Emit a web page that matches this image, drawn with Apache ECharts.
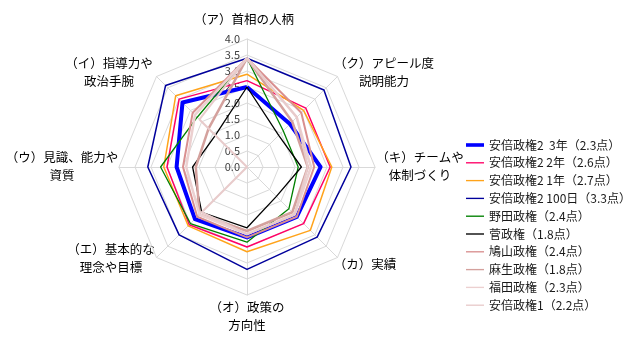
<!DOCTYPE html>
<html>
<head>
<meta charset="utf-8">
<script src="https://cdn.jsdelivr.net/npm/echarts@6/dist/echarts.min.js"></script>
<style>
  html, body { margin: 0; padding: 0; background: #ffffff; }
  #chart { width: 638px; height: 350px; }
</style>
</head>
<body>
<div id="chart"></div>
<script>
// Survey items, counter-clockwise from the top
const itemNames = [
  '（ア）首相の人柄',
  '（イ）指導力や\n政治手腕',
  '（ウ）見識、能力や\n資質',
  '（エ）基本的な\n理念や目標',
  '（オ）政策の\n方向性',
  '（カ）実績',
  '（キ）チームや\n体制づくり',
  '（ク）アピール度\n説明能力'
];

// Score scale
const scoreMin = 0;
const scoreMax = 4;
const scoreStep = 0.5;

// Cabinet names as listed in the legend
const cabinetNames = [
  '安倍政権2  3年（2.3点）',
  '安倍政権2 2年（2.6点）',
  '安倍政権2 1年（2.7点）',
  '安倍政権2 100日（3.3点）',
  '野田政権（2.4点）',
  '菅政権（1.8点）',
  '鳩山政権（2.4点）',
  '麻生政権（1.8点）',
  '福田政権（2.3点）',
  '安倍政権1（2.2点）'
];

// Scores per item, same order as itemNames
const abe2Year3   = [2.5, 2.85, 2.2, 2.3, 2.2, 2.2, 2.3, 1.9];
const abe2Year2   = [2.7, 3.0, 2.5, 2.55, 2.5, 2.5, 2.6, 2.6];
const abe2Year1   = [2.9, 3.15, 2.6, 2.6, 2.65, 2.8, 2.65, 2.5];
const abe2Day100  = [3.4, 3.6, 3.1, 3.0, 3.2, 3.1, 3.25, 3.4];
const nodaScores  = [3.4, 2.2, 2.7, 2.5, 2.35, 1.85, 1.6, 1.6];
const kanScores   = [2.5, 1.4, 1.7, 2.0, 1.9, 1.3, 1.7, 1.4];
const hatoyamaScores = [3.4, 2.4, 2.0, 2.2, 2.2, 2.2, 2.1, 2.4];
const asoScores   = [3.4, 1.7, 1.6, 2.1, 2.0, 2.0, 1.9, 2.0];
const fukudaScores = [3.4, 2.3, 1.9, 2.1, 2.1, 2.1, 2.0, 2.2];
const abe1Scores  = [3.4, 2.1, 0, 2.0, 2.1, 2.1, 1.9, 2.2];

const allScores = [abe2Year3, abe2Year2, abe2Year1, abe2Day100, nodaScores,
  kanScores, hatoyamaScores, asoScores, fukudaScores, abe1Scores];

// Styling
const lineColors = ['#0000ff', '#ff0066', '#ffa31a', '#00009c', '#008000',
  '#000000', '#d98f8f', '#d4a19d', '#ecd0d0', '#e8cbcb'];
const lineWidths = [4, 1.5, 1.5, 1.5, 1.3, 1.3, 2, 2.5, 2.5, 2];

const FONT = '"Noto Sans CJK JP", "Noto Sans", sans-serif';
const CX = 247, CY = 167, R = 128;

// Label anchors for the item names (block centres)
const nameAnchors = [
  [244, 19], [109, 72], [62, 166], [111, 258],
  [247, 316], [365, 264], [420, 166], [384, 72]
];

const thinIcon = 'path://M0,0M0,1.25h20v1.5h-20zM20,4';
const thickIcon = 'path://M0,0h20v4h-20z';

const chart = echarts.init(document.getElementById('chart'), null, { renderer: 'canvas' });

const indicators = itemNames.map(function (n, i) {
  const ind = { name: n, min: scoreMin, max: scoreMax };
  if (i === 0) {
    ind.axisLabel = {
      show: true,
      fontSize: 11,
      fontFamily: FONT,
      color: '#404040',
      margin: 7,
      showMinLabel: true,
      showMaxLabel: true,
      formatter: function (v) { return Number(v).toFixed(1); }
    };
  }
  return ind;
});

const option = {
  backgroundColor: '#ffffff',
  animation: false,
  textStyle: { fontFamily: FONT },
  radar: {
    center: [CX, CY],
    radius: R,
    startAngle: 90,
    shape: 'polygon',
    splitNumber: (scoreMax - scoreMin) / scoreStep,
    indicator: indicators,
    axisName: { show: false },
    axisLine: { lineStyle: { color: '#d9d9d9', width: 1 } },
    splitLine: { lineStyle: { color: '#d9d9d9', width: 1 } },
    splitArea: { show: false },
    axisTick: { show: false },
    axisLabel: { show: false }
  },
  legend: {
    orient: 'vertical',
    left: 466,
    top: 138,
    padding: 0,
    itemWidth: 18,
    itemHeight: 4,
    itemGap: 3.8,
    textStyle: { fontSize: 12, lineHeight: 14, color: '#1a1a1a', fontFamily: FONT },
    data: cabinetNames.map(function (n, i) {
      return {
        name: n,
        icon: i === 0 ? thickIcon : thinIcon,
        itemStyle: { color: lineColors[i], borderWidth: 0 }
      };
    })
  },
  graphic: itemNames.map(function (n, i) {
    return {
      type: 'text',
      x: nameAnchors[i][0],
      y: nameAnchors[i][1],
      silent: true,
      style: {
        text: n,
        font: '12.5px ' + FONT,
        fill: '#000000',
        align: 'center',
        verticalAlign: 'middle',
        textAlign: 'center',
        textVerticalAlign: 'middle',
        lineHeight: 18
      }
    };
  }),
  series: cabinetNames.map(function (n, i) {
    return {
      type: 'radar',
      name: n,
      symbol: 'none',
      z: 2,
      lineStyle: { color: lineColors[i], width: lineWidths[i] },
      itemStyle: { color: lineColors[i] },
      data: [{ name: n, value: allScores[i] }]
    };
  })
};

chart.setOption(option);
</script>
</body>
</html>
